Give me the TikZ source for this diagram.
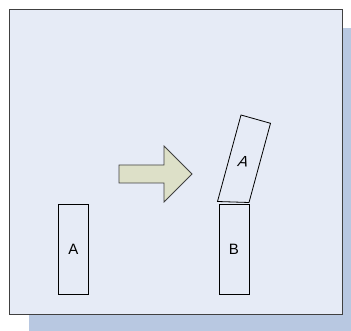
\documentclass[tikz,border=0pt]{standalone}
\usepackage{fontspec}
\setmainfont{Liberation Sans}
\definecolor{bgblue}{HTML}{E6EBF6}
\definecolor{shadowblue}{HTML}{B8C8E1}
\definecolor{arrowfill}{HTML}{DDE0C8}
\definecolor{edgegray}{HTML}{404040}
\begin{document}
\begin{tikzpicture}[x=1pt,y=-1pt,
  blockbox/.style={draw=black, line width=0.8pt, minimum width=30pt, minimum height=90pt, inner sep=0pt, font=\fontsize{15}{17}\selectfont},
  tiltedline/.style={draw=black, line width=0.8pt, line join=miter},
  labeltext/.style={inner sep=0pt, font=\fontsize{15}{17}\selectfont},
]
\useasboundingbox (0,0) rectangle (351,331);
% shadow and panel
\fill[shadowblue] (29,28.5) rectangle (351,331);
\draw[fill=bgblue, draw=edgegray, line width=1pt] (9.5,10) rectangle (342.5,315);
% blocks
\node[blockbox] (a1) at (73.5,249) {A};
\node[blockbox] (b) at (234,249) {B};
% tilted block
\coordinate (tl) at (241,115);
\coordinate (tr) at (270.5,123.3);
\coordinate (br) at (249,202.5);
\coordinate (bl) at (217.5,201.5);
\draw[tiltedline] (tl) -- (tr) -- (br) -- (bl) -- cycle;
\node[labeltext, xslant=0.3, rotate=-3] (a2) at (243.5,162) {A};
% big arrow
\draw[fill=arrowfill, draw=edgegray, line width=0.8pt, line join=miter]
  (119,165) -- (164,165) -- (164,146) -- (192,174) -- (164,202) -- (164,183) -- (119,183) -- cycle;
\end{tikzpicture}
\end{document}
